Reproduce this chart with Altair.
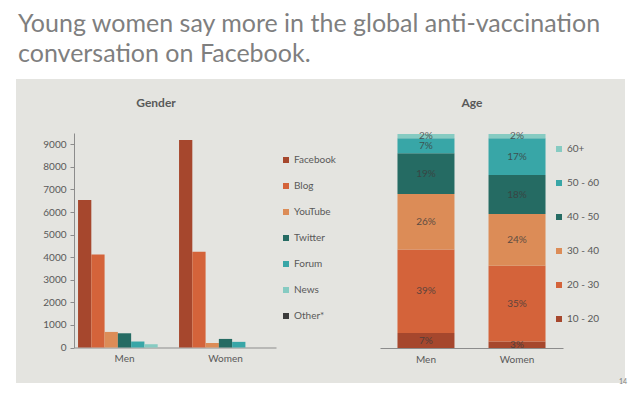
import altair as alt
import pandas as pd

# ---- data ----
genders = ["Men", "Women"]
channels = ["Facebook", "Blog", "YouTube", "Twitter", "Forum", "News", "Other*"]
men_counts = [6530, 4120, 690, 630, 265, 145, 0]
women_counts = [9190, 4240, 200, 380, 250, 0, 0]

age_groups = ["10 - 20", "20 - 30", "30 - 40", "40 - 50", "50 - 60", "60+"]
men_age = [7, 39, 26, 19, 7, 2]
women_age = [3, 35, 24, 18, 17, 2]

channel_colors = ["#a6472d", "#d4633a", "#dc8c57", "#256b63", "#38a6a7", "#86cbc2", "#3b3b3b"]
age_colors = ["#a6472d", "#d4633a", "#dc8c57", "#256b63", "#38a6a7", "#86cbc2"]

title_lines = ["Young women say more in the global anti-vaccination",
               "conversation on Facebook."]

FONT = "Lato"
GRAY = "#595959"
PANEL = "#e4e4e0"

# ---- tables ----
g_rows = []
for g, vals in zip(genders, [men_counts, women_counts]):
    for c, v in zip(channels, vals):
        g_rows.append({"gender": g, "channel": c, "value": v})
gdf = pd.DataFrame(g_rows)

a_rows = []
for g, vals in zip(genders, [men_age, women_age]):
    for i, (a, v) in enumerate(zip(age_groups, vals)):
        a_rows.append({"gender": g, "age": a, "value": v, "ord": i, "label": f"{v}%"})
adf = pd.DataFrame(a_rows)

# ---- gender panel ----
gbars = alt.Chart(gdf).mark_bar().encode(
    x=alt.X("gender:N", sort=genders,
            scale=alt.Scale(domain=genders, range=[57, 259], paddingInner=0.08, paddingOuter=0.04),
            axis=alt.Axis(title=None, labelAngle=0, ticks=False, domainColor="#8c8c8c",
                          labelColor=GRAY, labelFontSize=10, labelFont=FONT, labelPadding=6,
                          offset=-34.5)),
    xOffset=alt.XOffset("channel:N", sort=channels,
                        scale=alt.Scale(domain=channels, paddingInner=0, paddingOuter=0)),
    y=alt.Y("value:Q", scale=alt.Scale(domain=[0, 9500], range=[267.5, 53], nice=False),
            axis=alt.Axis(title=None, values=list(range(0, 10000, 1000)), grid=False,
                          format="d",
                          tickSize=4, tickColor="#8c8c8c", domainColor="#8c8c8c",
                          labelColor=GRAY, labelFontSize=10, labelFont=FONT,
                          labelPadding=4, offset=-57)),
    color=alt.Color("channel:N", sort=channels,
                    scale=alt.Scale(domain=channels, range=channel_colors),
                    legend=alt.Legend(title=None, orient="none", legendX=264, legendY=75,
                                      symbolType="square", symbolSize=36, symbolStrokeWidth=0,
                                      labelFontSize=10, labelColor=GRAY, labelFont=FONT,
                                      labelOffset=3, rowPadding=16, padding=0)),
)

gtitle = alt.Chart(pd.DataFrame({"t": ["Gender"]})).mark_text(
    font=FONT, fontSize=12, fontWeight="bold", color=GRAY
).encode(x=alt.value(139), y=alt.value(23), text="t:N")

gender_panel = alt.layer(gbars, gtitle).properties(width=329, height=302)

# ---- age panel ----
abase = alt.Chart(adf).transform_stack(
    stack="value", groupby=["gender"], as_=["y0", "y1"],
    sort=[alt.SortField("ord", order="ascending")], offset="normalize"
).transform_calculate(mid="(datum.y0 + datum.y1) / 2")

yscale = alt.Scale(domain=[0, 1], range=[268, 54], nice=False)
xscale = alt.Scale(domain=genders, range=[34, 217], paddingInner=0.374, paddingOuter=0.192)

abars = abase.mark_bar().encode(
    x=alt.X("gender:N", sort=genders, scale=xscale,
            axis=alt.Axis(title=None, labelAngle=0, ticks=False, domainColor="#8c8c8c",
                          labelColor=GRAY, labelFontSize=10, labelFont=FONT, labelPadding=6,
                          offset=-34)),
    y=alt.Y("y0:Q", scale=yscale, axis=None),
    y2="y1:Q",
    color=alt.Color("age:N", sort=list(reversed(age_groups)),
                    scale=alt.Scale(domain=list(reversed(age_groups)), range=list(reversed(age_colors))),
                    legend=alt.Legend(title=None, orient="none", legendX=208, legendY=64,
                                      symbolType="square", symbolSize=36, symbolStrokeWidth=0,
                                      labelFontSize=10, labelColor=GRAY, labelFont=FONT,
                                      labelOffset=3, rowPadding=24, padding=0)),
)

alabels = abase.mark_text(font=FONT, fontSize=10, color="#3d3d3d", opacity=0.8).encode(
    x=alt.X("gender:N", sort=genders, scale=xscale),
    y=alt.Y("mid:Q", scale=yscale),
    text="label:N",
)

atitle = alt.Chart(pd.DataFrame({"t": ["Age"]})).mark_text(
    font=FONT, fontSize=12, fontWeight="bold", color=GRAY
).encode(x=alt.value(126), y=alt.value(23), text="t:N")

pagenum = alt.Chart(pd.DataFrame({"t": ["14"]})).mark_text(
    font=FONT, fontSize=7, color="#7f7f7f", align="right"
).encode(x=alt.value(281), y=alt.value(302), text="t:N")

age_panel = alt.layer(abars, alabels, atitle, pagenum).properties(width=278, height=302)

chart = alt.hconcat(gender_panel, age_panel, spacing=0, bounds="flush").resolve_scale(
    color="independent", x="independent", y="independent"
).properties(
    title=alt.TitleParams(title_lines, anchor="start", fontSize=25, font=FONT,
                          fontWeight="normal", color="#7f7f7f", lineHeight=30,
                          offset=12, dx=2),
    background="white",
    padding={"left": 8, "top": 4, "right": 0, "bottom": 0},
).configure_view(fill=PANEL, stroke=PANEL, strokeWidth=2).configure_concat(spacing=0)

chart.save("out.html", embed_options={"renderer": "svg", "actions": False})
